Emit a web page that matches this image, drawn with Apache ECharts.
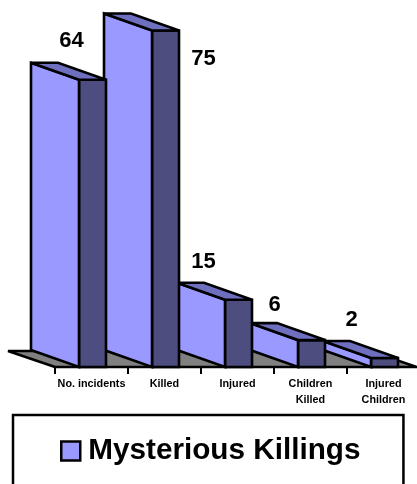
<!DOCTYPE html>
<html><head><meta charset="utf-8">
<style>html,body{margin:0;padding:0;background:#fff}#c{width:417px;height:484px}</style>
<script src="https://cdn.jsdelivr.net/npm/echarts@6/dist/echarts.min.js"></script>
</head><body><div id="c"></div>
<script>
const categories = ['No. incidents', 'Killed', 'Injured', 'Children\nKilled', 'Injured\nChildren'];
const values = [64, 75, 15, 6, 2];
const seriesName = 'Mysterious Killings';
// value-label nudges from the bar's top-centre (presentation only)
const labelNudgeX = [-20, 39, -34, -36, -32];
const labelNudgeY = [-39, 28, -38, -35, -38];

const FONT = '"Liberation Sans", Arial, sans-serif';
const INK = '#000';
const FRONT = '#9999FF', SIDE = '#4D4D80', TOP = '#6F6FC0', FLOOR = '#808080';
const DX = 47, DY = 17;       // depth vector of the pseudo-3D view
const FRONT_L = 24, SIDE_W = 27; // half width of lit face, width of dark face
const LW = 2.6;

const chart = echarts.init(document.getElementById('c'), null, {renderer: 'canvas'});

function renderBar(params, api) {
  const i = api.value(0), v = api.value(1);
  const base = api.coord([i, 0]), top = api.coord([i, v]);
  const band = api.size([1, 0])[0];
  const c = base[0] - band / 2;           // left tick of this band
  const xl = c - FRONT_L, xr = c + FRONT_L, xs = xr + SIDE_W;
  const yb = base[1], yt = top[1];
  const z = 100 - i;
  const st = fill => ({fill, stroke: INK, lineWidth: LW, lineJoin: 'miter', miterLimit: 2});
  return {type: 'group', children: [
    {type: 'polygon', z2: z, shape: {points: [[xr, yt], [xs, yt], [xs, yb], [xr, yb]]}, style: st(SIDE)},
    {type: 'polygon', z2: z, shape: {points: [[xl, yt - DY], [xr, yt], [xr, yb], [xl, yb - DY]]}, style: st(FRONT)},
    {type: 'polygon', z2: z, shape: {points: [[xl, yt - DY], [xl + SIDE_W, yt - DY], [xs, yt], [xr, yt]]}, style: st(TOP)},
    {type: 'text', z2: 200, style: {
      x: c + band / 2 + labelNudgeX[i], y: yt + labelNudgeY[i],
      text: String(v), fill: INK, font: 'bold 22px ' + FONT, textAlign: 'center', textVerticalAlign: 'middle'}}
  ]};
}

function renderFloor(params, api) {
  const band = api.size([1, 0])[0];
  const l = api.coord([0, 0]), r = api.coord([categories.length - 1, 0]);
  const x0 = l[0] - band / 2, x1 = r[0] + band / 2 - 3, y = l[1];
  return {type: 'polygon', shape: {points: [[x0, y], [x0 - DX, y - DY + 1], [x1 - DX, y - DY + 1], [x1, y]]},
    style: {fill: FLOOR, stroke: INK, lineWidth: LW, lineJoin: 'miter', miterLimit: 2}};
}

chart.setOption({
  animation: false,
  backgroundColor: '#fff',
  grid: {left: 55, top: 8, width: 365, height: 359, containLabel: false, outerBoundsMode: 'none'},
  xAxis: {
    type: 'category', data: categories,
    axisLine: {show: true, lineStyle: {color: INK, width: 2}},
    axisTick: {show: true, alignWithLabel: false, length: 7, lineStyle: {color: INK, width: 2}},
    axisLabel: {interval: 0, color: INK, fontFamily: FONT, fontWeight: 'bold', fontSize: 10.8, lineHeight: 16, margin: 9},
    z: 3
  },
  yAxis: {type: 'value', min: 0, max: 80, show: false, splitLine: {show: false}},
  legend: {
    left: 13, top: 415, orient: 'horizontal',
    data: [{name: seriesName, icon: 'rect', itemStyle: {color: FRONT, borderColor: INK, borderWidth: 2.5}}],
    itemWidth: 19, itemHeight: 19, itemGap: 0,
    padding: [21, 43, 46, 47],
    borderColor: INK, borderWidth: 2.5, backgroundColor: '#fff',
    selectedMode: false,
    textStyle: {color: INK, fontFamily: FONT, fontWeight: 'bold', fontSize: 29.7, padding: [0, 0, 0, 3]}
  },
  series: [
    {type: 'custom', name: 'floor', silent: true, z: 1, clip: false, renderItem: renderFloor, data: [[0, 0]], encode: {x: 0, y: 1}},
    {type: 'custom', name: seriesName, z: 2, clip: false, renderItem: renderBar,
      itemStyle: {color: FRONT},
      data: values.map((v, i) => [i, v]), encode: {x: 0, y: 1}}
  ]
});
</script></body></html>
